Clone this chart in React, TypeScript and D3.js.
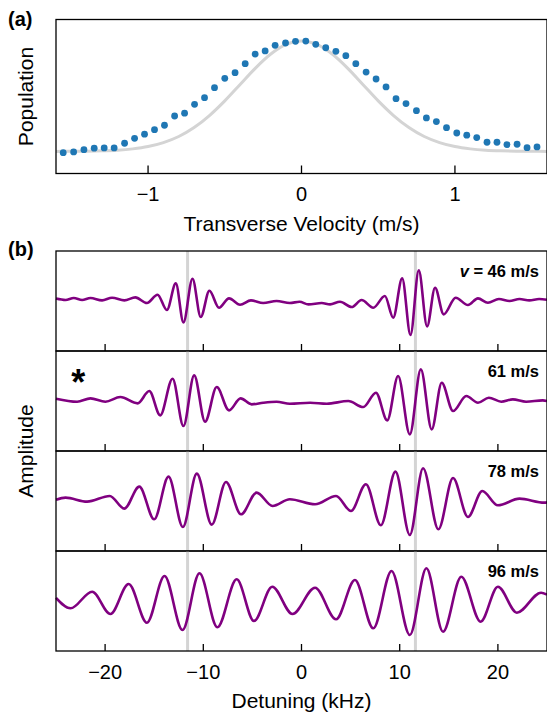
import React, { useEffect, useRef } from 'react'
import * as d3 from 'd3'

// (a) measured transverse velocity distribution
const velocity = [
  -1.553, -1.485, -1.418, -1.351, -1.286, -1.221, -1.153, -1.088, -1.023, -0.958, -0.893, -0.827,
  -0.762, -0.697, -0.632, -0.567, -0.5, -0.433, -0.367, -0.302, -0.237, -0.172, -0.104, -0.039,
  0.028, 0.093, 0.158, 0.224, 0.289, 0.354, 0.421, 0.486, 0.551, 0.616, 0.681, 0.749,
  0.814, 0.879, 0.945, 1.012, 1.077, 1.142, 1.209, 1.274, 1.339, 1.405, 1.47, 1.535,
]
const population = [
  -0.011, -0.005, 0.016, 0.029, 0.032, 0.032, 0.074, 0.119, 0.156, 0.197, 0.237, 0.321,
  0.346, 0.427, 0.487, 0.577, 0.662, 0.713, 0.795, 0.882, 0.91, 0.961, 0.982, 0.997,
  1.0, 0.97, 0.939, 0.907, 0.867, 0.795, 0.719, 0.656, 0.584, 0.478, 0.433, 0.369,
  0.303, 0.27, 0.215, 0.167, 0.147, 0.125, 0.083, 0.083, 0.062, 0.065, 0.034, 0.041,
]

// (a) gray reference curve
const theoryVelocity = [
  -1.6, -1.5, -1.4, -1.3, -1.2, -1.1, -1.0, -0.9, -0.8, -0.7, -0.6, -0.5, -0.4, -0.3, -0.2, -0.1, 0,
  0.1, 0.2, 0.3, 0.4, 0.5, 0.6, 0.7, 0.8, 0.9, 1.0, 1.1, 1.2, 1.3, 1.4, 1.5, 1.6,
]
const theoryPopulation = [
  0.0, 0.001, 0.002, 0.005, 0.011, 0.023, 0.044, 0.08, 0.135, 0.216, 0.325, 0.458, 0.607, 0.755, 0.882, 0.969, 1.0,
  0.969, 0.882, 0.755, 0.607, 0.458, 0.325, 0.216, 0.135, 0.08, 0.044, 0.023, 0.011, 0.005, 0.002, 0.001, 0.0,
]

// (b) signal extrema, detuning in kHz
const speeds = ['46', '61', '78', '96']

const detuning46 = [
  -25, -24.03, -23.19, -22.34, -21.49, -20.31, -19.29, -18.04, -16.92, -15.74, -14.66, -13.71, -12.8, -12.02,
  -11.1, -10.26, -9.38, -8.4, -7.38, -6.26, -5.15, -3.9, -2.54, -1.19, -0.2, 0.71, 2.06, 2.91, 3.92, 5.11,
  6.12, 7.31, 8.49, 9.34, 10.25, 11.1, 11.94, 12.79, 13.6, 14.48, 15.7, 16.95, 17.97, 18.98, 20.1, 21.18,
  22.2, 23.2, 24.2, 25,
]
const amplitude46 = [
  0.06, 0.024, 0.074, 0.024, 0.074, 0.016, 0.083, 0.016, 0.091, -0.05, 0.158, -0.226, 0.441, -0.534,
  0.558, -0.401, 0.258, -0.168, 0.066, -0.093, 0.016, -0.05, 0.0, -0.05, -0.02, -0.084, -0.051, -0.084, -0.018, -0.151,
  0.024, -0.168, 0.124, -0.418, 0.566, -0.851, 0.766, -0.634, 0.333, -0.334, 0.083, -0.101, 0.066, -0.043, 0.049, 0.0,
  0.049, 0.016, 0.05, 0.03,
]

const detuning61 = [
  -25, -22.85, -21.49, -19.97, -18.45, -16.69, -15.5, -14.39, -13.13, -12.02, -10.93, -9.82, -8.63, -7.38,
  -6.2, -5.08, -3.9, -2.54, -1.19, 0.88, 2.57, 4.77, 6.29, 7.58, 8.73, 9.84, 11.03, 12.15, 13.26, 14.28,
  15.43, 16.78, 17.97, 19.08, 20.34, 21.52, 22.87, 24.57, 25,
]
const amplitude61 = [
  0.058, -0.018, 0.066, -0.018, 0.099, -0.059, 0.249, -0.359, 0.558, -0.626, 0.641, -0.518, 0.349, -0.234,
  0.066, -0.084, -0.043, -0.018, -0.068, -0.043, -0.068, 0.0, -0.151, 0.208, -0.484, 0.624, -0.834, 0.791, -0.709, 0.458,
  -0.251, 0.124, -0.043, 0.083, -0.018, 0.041, -0.018, 0.016, 0.0,
]

const detuning78 = [
  -25, -24.03, -21.83, -19.53, -18.04, -16.52, -15.0, -13.54, -12.08, -10.66, -9.14, -7.69, -6.16, -4.57,
  -2.95, -1.19, 1.38, 3.52, 5.04, 6.56, 8.08, 9.57, 11.03, 12.38, 13.94, 15.43, 16.95, 18.41, 20.0, 22.2,
  24.73, 25,
]
const amplitude78 = [
  0.03, 0.084, -0.016, 0.126, -0.191, 0.359, -0.458, 0.609, -0.649, 0.684, -0.591, 0.476, -0.333, 0.209,
  -0.124, 0.043, -0.083, 0.126, -0.249, 0.418, -0.608, 0.734, -0.849, 0.818, -0.708, 0.576, -0.399, 0.251, -0.108, 0.059,
  -0.041, -0.035,
]

const detuning96 = [
  -25, -23.52, -21.32, -19.46, -17.6, -15.74, -13.95, -12.12, -10.39, -8.57, -6.6, -4.84, -2.98, -0.92,
  1.38, 3.52, 5.44, 7.31, 9.17, 11.03, 12.72, 14.41, 16.27, 18.24, 20.0, 21.93, 24.4, 25,
]
const amplitude96 = [
  0.08, -0.183, 0.233, -0.325, 0.425, -0.542, 0.625, -0.725, 0.692, -0.658, 0.542, -0.5, 0.358, -0.325,
  0.333, -0.458, 0.525, -0.683, 0.75, -0.85, 0.817, -0.767, 0.608, -0.517, 0.358, -0.292, 0.208, 0.16,
]

const signalDetuning = [detuning46, detuning61, detuning78, detuning96]
const signalAmplitude = [amplitude46, amplitude61, amplitude78, amplitude96]

const resonances = [-11.6, 11.6]
const velocityTicks = [-1, 0, 1]
const detuningTicks = [-20, -10, 0, 10, 20]

const FONT = "'Liberation Sans', Arial, sans-serif"
const minus = (d) => (d < 0 ? '\u2212' + Math.abs(d) : String(d))

const Chart = () => {
  const svgRef = useRef()

  useEffect(() => {
    document.body.style.margin = '0'
    const svg = d3.select(svgRef.current)
    svg.selectAll('*').remove()
    svg.style('font-family', FONT)

    const left = 56
    const right = 547

    // ---- panel (a)
    const aTop = 19.5
    const aBottom = 173.5
    const xv = d3.scaleLinear().domain([-1.6, 1.6]).range([left, right])
    const yp = d3.scaleLinear().domain([-0.2, 1.195]).range([aBottom, aTop])

    const gA = svg.append('g')
    gA.append('path')
      .datum(theoryVelocity.map((v, i) => [v, theoryPopulation[i]]))
      .attr('d', d3.line().x((d) => xv(d[0])).y((d) => yp(d[1])).curve(d3.curveMonotoneX))
      .attr('fill', 'none')
      .attr('stroke', '#d4d4d4')
      .attr('stroke-width', 3)

    gA.selectAll('circle')
      .data(velocity.map((v, i) => [v, population[i]]))
      .join('circle')
      .attr('cx', (d) => xv(d[0]))
      .attr('cy', (d) => yp(d[1]))
      .attr('r', 3.4)
      .attr('fill', '#1f77b4')

    gA.append('rect')
      .attr('x', left).attr('y', aTop)
      .attr('width', right - left).attr('height', aBottom - aTop)
      .attr('fill', 'none').attr('stroke', '#000').attr('stroke-width', 1.3)

    velocityTicks.forEach((t) => {
      gA.append('line')
        .attr('x1', xv(t)).attr('x2', xv(t))
        .attr('y1', aBottom).attr('y2', aBottom - 8)
        .attr('stroke', '#000').attr('stroke-width', 1.3)
      gA.append('text')
        .attr('x', xv(t)).attr('y', aBottom + 27)
        .attr('text-anchor', 'middle')
        .style('font-size', '20px')
        .text(minus(t))
    })

    gA.append('text')
      .attr('x', xv(0)).attr('y', aBottom + 57)
      .attr('text-anchor', 'middle')
      .style('font-size', '21px')
      .text('Transverse Velocity (m/s)')

    gA.append('text')
      .attr('transform', `translate(33, ${(aTop + aBottom) / 2}) rotate(-90)`)
      .attr('text-anchor', 'middle')
      .style('font-size', '21px')
      .text('Population')

    gA.append('text')
      .attr('x', 8).attr('y', 26)
      .style('font-size', '20px').style('font-weight', 'bold')
      .text('(a)')

    // ---- panel (b)
    const bTop = 251
    const panelH = 100
    const xd = d3.scaleLinear().domain([-25, 25]).range([left, right])
    const gB = svg.append('g')

    speeds.forEach((speed, k) => {
      const top = bTop + k * panelH
      const bottom = top + panelH
      const ya = d3.scaleLinear().domain([-1.25, 1.25]).range([bottom, top])
      const g = gB.append('g')

      resonances.forEach((r) => {
        g.append('line')
          .attr('x1', xd(r)).attr('x2', xd(r))
          .attr('y1', top).attr('y2', bottom)
          .attr('stroke', '#d4d4d4').attr('stroke-width', 3)
      })

      g.append('path')
        .datum(signalDetuning[k].map((x, i) => [x, signalAmplitude[k][i]]))
        .attr('d', d3.line().x((d) => xd(d[0])).y((d) => ya(d[1])).curve(d3.curveMonotoneX))
        .attr('fill', 'none')
        .attr('stroke', '#800080')
        .attr('stroke-width', 2.6)

      g.append('rect')
        .attr('x', left).attr('y', top)
        .attr('width', right - left).attr('height', panelH)
        .attr('fill', 'none').attr('stroke', '#000').attr('stroke-width', 1.3)

      detuningTicks.forEach((t) => {
        g.append('line')
          .attr('x1', xd(t)).attr('x2', xd(t))
          .attr('y1', bottom).attr('y2', bottom - 7)
          .attr('stroke', '#000').attr('stroke-width', 1.3)
      })

      const label = g.append('text')
        .attr('x', 539).attr('y', top + 25.5)
        .attr('text-anchor', 'end')
        .style('font-size', '16.5px').style('font-weight', 'bold')
      if (k === 0) {
        label.append('tspan').style('font-style', 'italic').text('v')
        label.append('tspan').text(` = ${speed} m/s`)
      } else {
        label.text(`${speed} m/s`)
      }
    })

    const bBottom = bTop + speeds.length * panelH
    detuningTicks.forEach((t) => {
      gB.append('text')
        .attr('x', xd(t)).attr('y', bBottom + 28)
        .attr('text-anchor', 'middle')
        .style('font-size', '20px')
        .text(minus(t))
    })

    gB.append('text')
      .attr('x', xd(0)).attr('y', bBottom + 57)
      .attr('text-anchor', 'middle')
      .style('font-size', '21px')
      .text('Detuning (kHz)')

    gB.append('text')
      .attr('transform', `translate(33, ${(bTop + bBottom) / 2}) rotate(-90)`)
      .attr('text-anchor', 'middle')
      .style('font-size', '21px')
      .text('Amplitude')

    gB.append('text')
      .attr('x', 8).attr('y', 256)
      .style('font-size', '20px').style('font-weight', 'bold')
      .text('(b)')

    // marks the 61 m/s trace
    gB.append('text')
      .attr('x', 78.3).attr('y', 395)
      .attr('text-anchor', 'middle')
      .style('font-size', '36px').style('font-weight', 'bold')
      .text('*')
  }, [])

  return <svg ref={svgRef} width={547} height={715} style={{ display: 'block' }}></svg>
}

export default function App() {
  return <Chart />
}
